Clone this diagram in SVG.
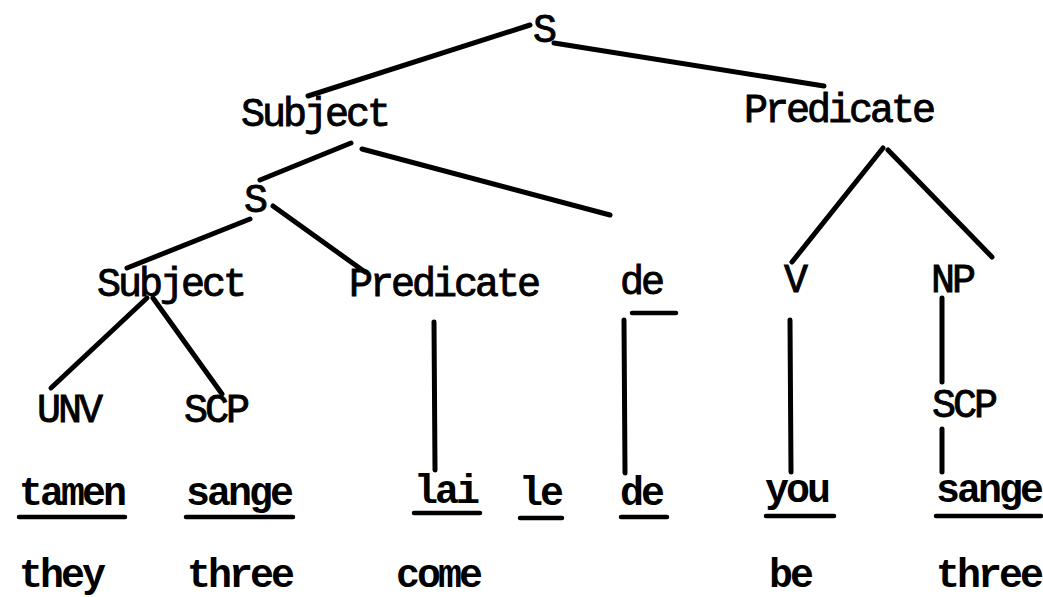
<svg xmlns="http://www.w3.org/2000/svg" width="1043" height="597" viewBox="0 0 1043 597">
<style>
text{font-family:"Liberation Mono","Courier New",monospace;font-size:40px;letter-spacing:-3px;fill:#000}
.lab{stroke:#000;stroke-width:0.9px}
.w{font-weight:bold}
.c line{stroke:#000;stroke-width:5;stroke-linecap:round}
.u line{stroke:#000;stroke-width:4.5;stroke-linecap:round}
</style>
<rect width="1043" height="597" fill="#fff"/>
<g class="c" id="connectors">
<line x1="530" y1="25" x2="308" y2="96"/>
<line x1="554" y1="43" x2="824" y2="86"/>
<line x1="351" y1="143" x2="260" y2="180"/>
<line x1="362" y1="149" x2="610" y2="215"/>
<line x1="250" y1="219" x2="127" y2="268"/>
<line x1="273" y1="206" x2="365" y2="272"/>
<line x1="883" y1="148" x2="792" y2="262"/>
<line x1="888" y1="150" x2="992" y2="257"/>
<line x1="147" y1="298" x2="51" y2="388"/>
<line x1="153" y1="298" x2="222" y2="394"/>
<line x1="434" y1="322" x2="435" y2="470"/>
<line x1="624" y1="320" x2="625" y2="473"/>
<line x1="790" y1="320" x2="791" y2="472"/>
<line x1="942" y1="298" x2="942" y2="382"/>
<line x1="942" y1="429" x2="942" y2="472"/>
</g>
<g id="S1"><text class="lab" x="533" y="42">S</text></g>
<g id="Subject1"><text class="lab" x="241" y="126">Subject</text></g>
<g id="Predicate1"><text class="lab" x="744" y="122">Predicate</text></g>
<g id="S2"><text class="lab" x="244" y="212">S</text></g>
<g id="Subject2"><text class="lab" x="97" y="296">Subject</text></g>
<g id="Predicate2"><text class="lab" x="349" y="296">Predicate</text></g>
<g id="de1"><text class="lab" x="620" y="294">de</text></g>
<g id="V"><text class="lab" x="784" y="292">V</text></g>
<g id="NP"><text class="lab" x="931" y="292">NP</text></g>
<g id="UNV"><text class="lab" x="37" y="422">UNV</text></g>
<g id="SCP1"><text class="lab" x="184" y="422">SCP</text></g>
<g id="SCP2"><text class="lab" x="932" y="417">SCP</text></g>
<g class="u" id="underlines">
<line x1="632" y1="313" x2="676" y2="313"/>
<line x1="19" y1="517" x2="125" y2="517"/>
<line x1="186" y1="517" x2="293" y2="517"/>
<line x1="414" y1="513" x2="480" y2="513"/>
<line x1="520" y1="518" x2="562" y2="518"/>
<line x1="621" y1="517" x2="667" y2="517"/>
<line x1="766" y1="516" x2="834" y2="516"/>
<line x1="936" y1="516" x2="1041" y2="516"/>
</g>
<g id="tamen"><text class="w" x="19" y="505">tamen</text></g>
<g id="sange1"><text class="w" x="186" y="505">sange</text></g>
<g id="lai"><text class="w" x="414" y="503">lai</text></g>
<g id="le"><text class="w" x="519" y="505">le</text></g>
<g id="de2"><text class="w" x="620" y="505">de</text></g>
<g id="you"><text class="w" x="765" y="502">you</text></g>
<g id="sange2"><text class="w" x="936" y="502">sange</text></g>
<g id="they"><text class="w" x="19" y="587">they</text></g>
<g id="three1"><text class="w" x="187" y="587">three</text></g>
<g id="come"><text class="w" x="396" y="587">come</text></g>
<g id="be"><text class="w" x="769" y="587">be</text></g>
<g id="three2"><text class="w" x="936" y="587">three</text></g>
</svg>
